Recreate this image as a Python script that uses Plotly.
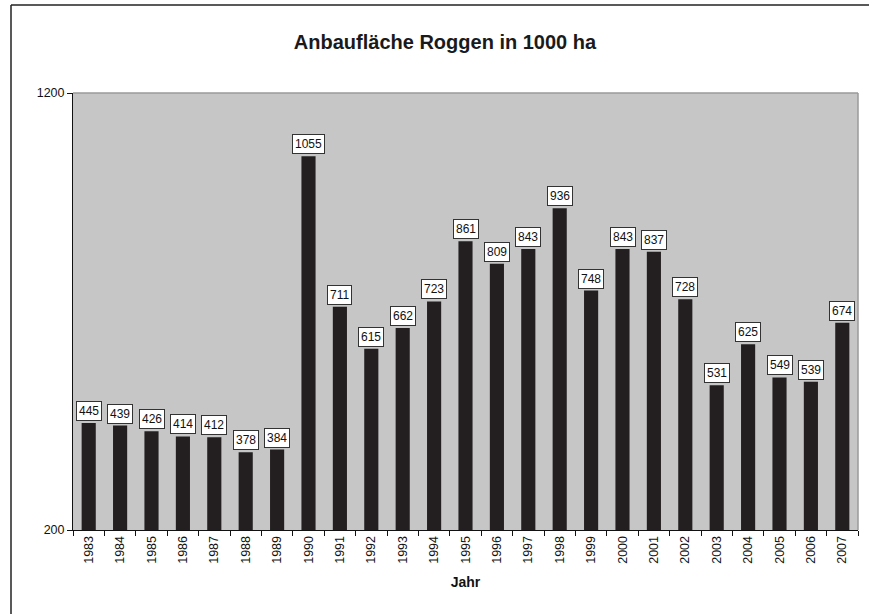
import plotly.graph_objects as go

years = [str(y) for y in range(1983, 2008)]
values = [445, 439, 426, 414, 412, 378, 384, 1055, 711, 615, 662, 723, 861, 809,
          843, 936, 748, 843, 837, 728, 531, 625, 549, 539, 674]
y_ticks = [200, 1200]

W, H = 869, 614
L, R, T, B = 73, 858, 93, 530

def px_x(px):
    return (px - L) / (R - L)

def px_y(py):
    return (B - py) / (B - T)

FONT = "Liberation Sans, Arial, sans-serif"

fig = go.Figure()
fig.add_trace(go.Bar(
    x=years, y=values,
    marker=dict(color="#231f20", line=dict(width=0)),
    width=0.45,
    hoverinfo="x+y",
))

annotations = []
for i, v in enumerate(values):
    annotations.append(dict(
        x=i, y=v, xref="x", yref="y",
        text=str(v), showarrow=False,
        yanchor="bottom", yshift=2,
        bgcolor="white", bordercolor="#333333", borderwidth=1, borderpad=2,
        font=dict(family=FONT, size=12, color="#111111"),
    ))

fig.update_layout(
    width=W, height=H,
    margin=dict(l=L, r=W - R, t=T, b=H - B, pad=0),
    paper_bgcolor="white",
    plot_bgcolor="#c6c6c6",
    font=dict(family=FONT, size=12, color="#111111"),
    title=dict(
        text="<b>Anbaufläche Roggen in 1000 ha</b>",
        x=px_x(445), xref="paper", xanchor="center",
        y=1 - 42 / H, yref="container", yanchor="middle",
        font=dict(size=20, color="#1a1a1a"),
    ),
    showlegend=False,
    annotations=annotations,
    xaxis=dict(
        type="category",
        showline=True, linecolor="#111111", linewidth=1,
        ticks="outside", ticklen=5, tickcolor="#111111", tickson="boundaries",
        tickangle=-90, showgrid=False,
        tickfont=dict(size=12.5),
        title=dict(text="<b>Jahr</b>", font=dict(size=14), standoff=14),
    ),
    yaxis=dict(
        range=[200, 1200],
        tickvals=y_ticks, ticktext=[str(t) for t in y_ticks],
        showline=True, linecolor="#111111", linewidth=1,
        ticks="outside", ticklen=5, tickcolor="#111111",
        showgrid=False, zeroline=False,
        tickfont=dict(size=12.5),
    ),
    shapes=[
        dict(type="line", xref="paper", yref="paper", x0=0, x1=1, y0=1, y1=1,
             line=dict(color="#9a9a9a", width=1.5), layer="above"),
        dict(type="line", xref="paper", yref="paper", x0=1, x1=1, y0=0, y1=1,
             line=dict(color="#9a9a9a", width=1.5), layer="above"),
        # outer chart border: left and top edges only
        dict(type="line", xref="paper", yref="paper",
             x0=px_x(11), x1=px_x(11), y0=px_y(620), y1=px_y(5),
             line=dict(color="#222222", width=1.5), layer="above"),
        dict(type="line", xref="paper", yref="paper",
             x0=px_x(11), x1=px_x(880), y0=px_y(5), y1=px_y(5),
             line=dict(color="#222222", width=1.5), layer="above"),
    ],
)

fig.write_html(
    "out.html", config={"displayModeBar": False},
    post_script=(
        "document.body.style.margin='0';document.body.style.overflow='hidden';"
        "document.documentElement.style.overflow='hidden';"
    ),
)
